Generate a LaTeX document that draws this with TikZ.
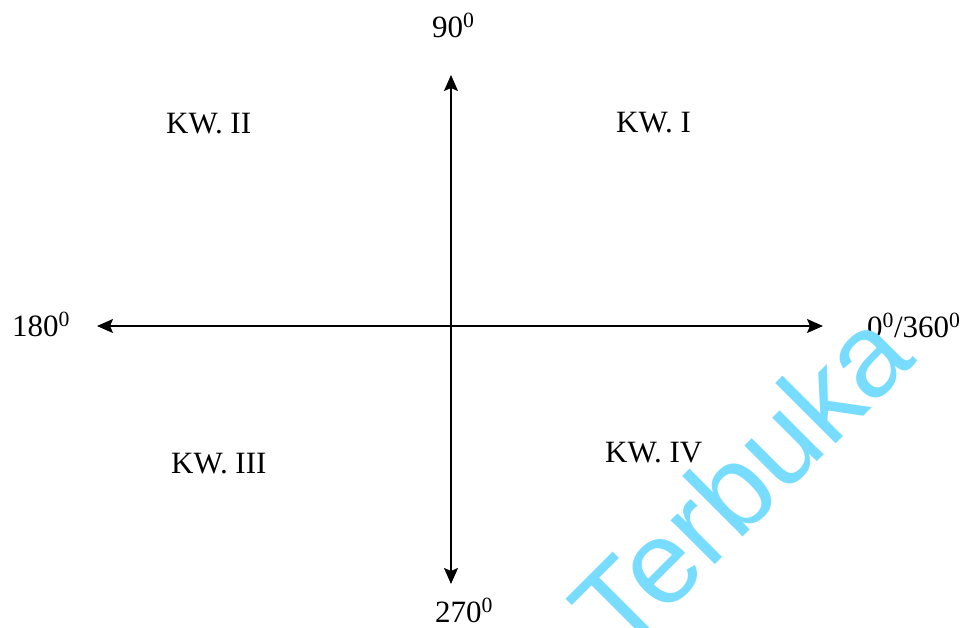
\documentclass[tikz,border=0pt]{standalone}
\usepackage{fontspec}
\setmainfont{Liberation Serif}
\newfontfamily\marksans{Liberation Sans}
\usetikzlibrary{arrows.meta}
\definecolor{skymark}{RGB}{120,220,255}

\begin{document}
\begin{tikzpicture}[
  x=1pt, y=-1pt,
  axis/.style={{Stealth[length=16pt,width=14pt,inset=3pt]}-{Stealth[length=16pt,width=14pt,inset=3pt]},
    line width=1.5pt},
  deg/.style={anchor=base west, inner sep=0pt, font=\fontsize{31}{36}\selectfont},
  quad/.style={anchor=base west, inner sep=0pt, font=\fontsize{31}{36}\selectfont},
  watermark/.style={text=skymark, inner sep=0pt, font=\marksans\fontsize{118}{130}\selectfont}
]
\useasboundingbox (0,0) rectangle (963,627);
\coordinate (top) at (451,75);
\coordinate (bottom) at (451,584);
\coordinate (left) at (97,326);
\coordinate (right) at (823,326);
\draw[axis] (left) -- (right);
\draw[axis] (bottom) -- (top);
\node[deg] (d90) at (432,37) {90\textsuperscript{0}};
\node[deg] (d270) at (435,622) {270\textsuperscript{0}};
\node[deg] (d180) at (12,336) {180\textsuperscript{0}};
\node[deg] (d0) at (867,337) {0\textsuperscript{0}/360\textsuperscript{0}};
\node[quad] (kw1) at (616,132) {KW. I};
\node[quad] (kw2) at (166,133) {KW. II};
\node[quad] (kw3) at (171,473) {KW. III};
\node[quad] (kw4) at (605,462) {KW. IV};
\node[watermark, rotate=45] (wm) at (740,480) {Terbuka};
\end{tikzpicture}
\end{document}
